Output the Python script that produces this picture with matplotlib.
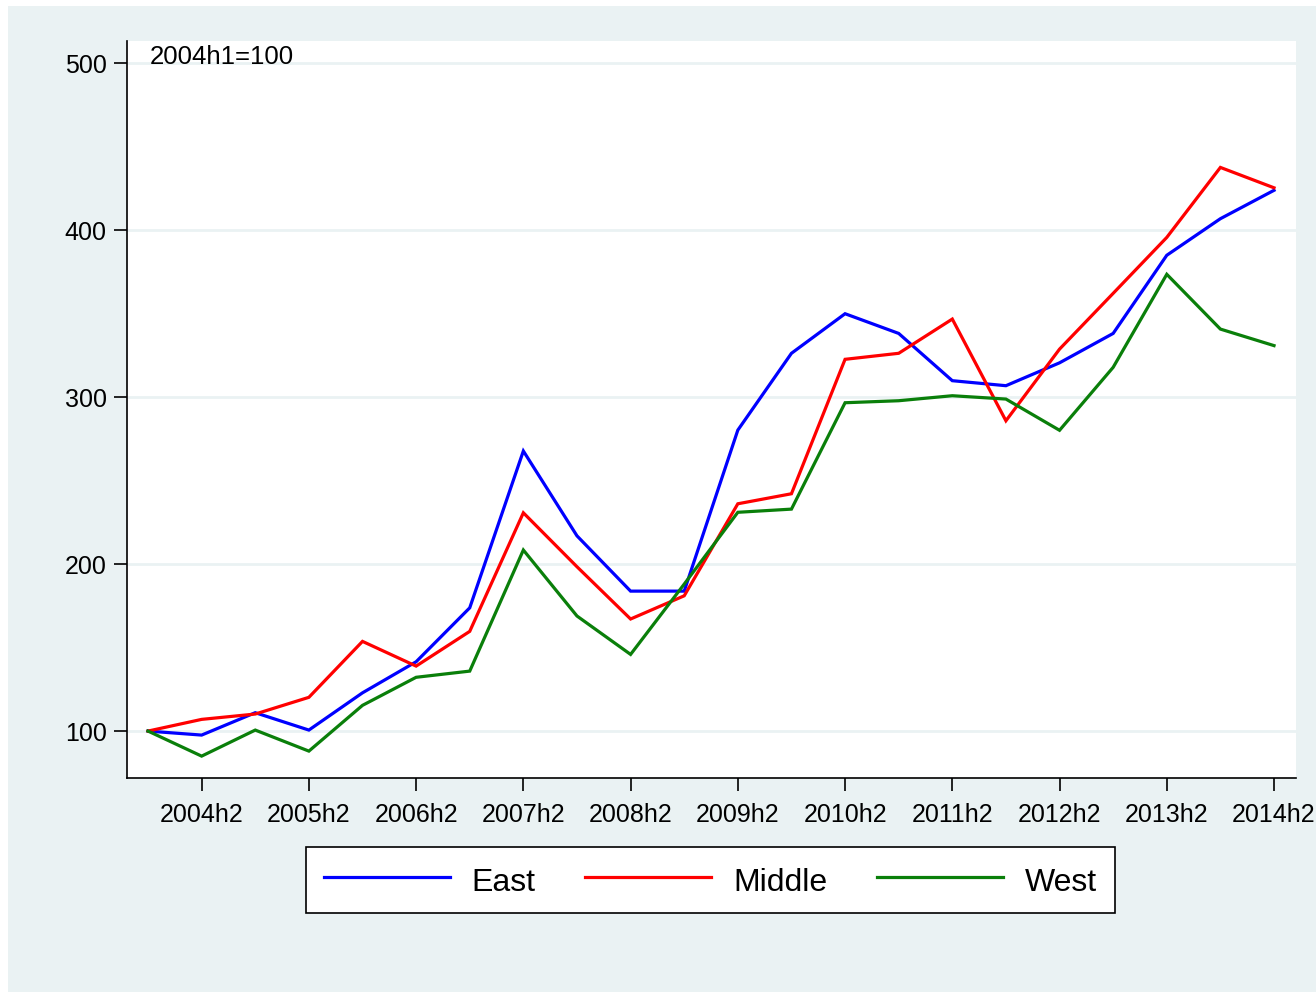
import matplotlib
matplotlib.use("Agg")
import matplotlib.pyplot as plt
from matplotlib.patches import Rectangle

periods = [f"{y}h{h}" for y in range(2004, 2015) for h in (1, 2)]
east = [100, 97.6, 111.0, 100.6, 122.9, 141.5, 173.8, 267.7, 216.9, 183.8, 183.8,
        280.2, 326.2, 349.9, 338.1, 309.8, 306.8, 320.5, 338.1, 384.9, 406.8, 423.8]
middle = [100, 107.0, 110.2, 120.2, 153.7, 138.9, 159.7, 230.7, 198.4, 167.1, 181.0,
          236.1, 242.1, 322.6, 326.2, 346.7, 285.8, 328.7, 362.1, 395.6, 437.5, 425.3]
west = [100, 85.0, 100.6, 88.0, 115.4, 132.2, 135.9, 208.4, 168.9, 145.9, 188.0,
        231.0, 232.9, 296.6, 297.8, 300.8, 298.8, 280.1, 317.8, 373.5, 340.7, 330.8]
yticks = [100, 200, 300, 400, 500]
series_names = ["East", "Middle", "West"]
colors = ["#0000FF", "#FF0000", "#0A7F0A"]

plt.rcParams['font.family'] = ['Liberation Sans', 'DejaVu Sans']

W, H = 1316, 992
fig = plt.figure(figsize=(W / 100, H / 100), dpi=100)
fig.patch.set_facecolor("white")
bg = "#EAF2F3"
fig.patches.append(Rectangle((8 / W, 0), 1, 1 - 6 / H, transform=fig.transFigure,
                             facecolor=bg, edgecolor="none", zorder=-10))

ax = fig.add_axes([127 / W, 1 - 778 / H, (1296 - 127) / W, (778 - 41) / H])
ax.set_facecolor("white")

x = list(range(len(periods)))
for vals, name, c in zip([east, middle, west], series_names, colors):
    ax.plot(x, vals, color=c, lw=2.3, label=name, solid_joinstyle='miter')

ax.set_xlim(-0.392, 21.41)
ax.set_ylim(71.9, 513.2)

fs = 18
ax.set_yticks(yticks)
ax.set_yticklabels([str(v) for v in yticks], fontsize=fs)
xt = [i for i, p in enumerate(periods) if p.endswith("h2")]
ax.set_xticks(xt)
ax.set_xticklabels([periods[i] for i in xt], fontsize=fs)
ax.tick_params(axis='both', direction='out', length=9.5, width=1.2, color='black')
ax.tick_params(axis='x', pad=8.5)
ax.tick_params(axis='y', pad=5)
for lbl in ax.get_xticklabels():
    lbl.set_clip_on(False)

ax.grid(axis='y', color=bg, lw=2)
ax.set_axisbelow(True)
for s in ["top", "right"]:
    ax.spines[s].set_visible(False)
for s in ["left", "bottom"]:
    ax.spines[s].set_linewidth(1.2)
    ax.spines[s].set_color("black")

fig.text(150 / W, 1 - 57 / H, "2004h1=100", fontsize=18.5, va='center', ha='left')

leg = fig.legend(loc='center', bbox_to_anchor=(710.5 / W, 1 - 880 / H), ncol=3,
                 fontsize=23, handlelength=3.94, handletextpad=0.69, columnspacing=1.56,
                 frameon=True, fancybox=False, borderpad=0.55, borderaxespad=0,
                 framealpha=1.0)
leg.get_frame().set_edgecolor("black")
leg.get_frame().set_linewidth(1.2)
leg.get_frame().set_facecolor("white")
for l in leg.get_lines():
    l.set_linewidth(2.3)
for t in leg.get_texts():
    t.set_y(-3)

fig.savefig("out.png", dpi=100, facecolor=fig.get_facecolor())
